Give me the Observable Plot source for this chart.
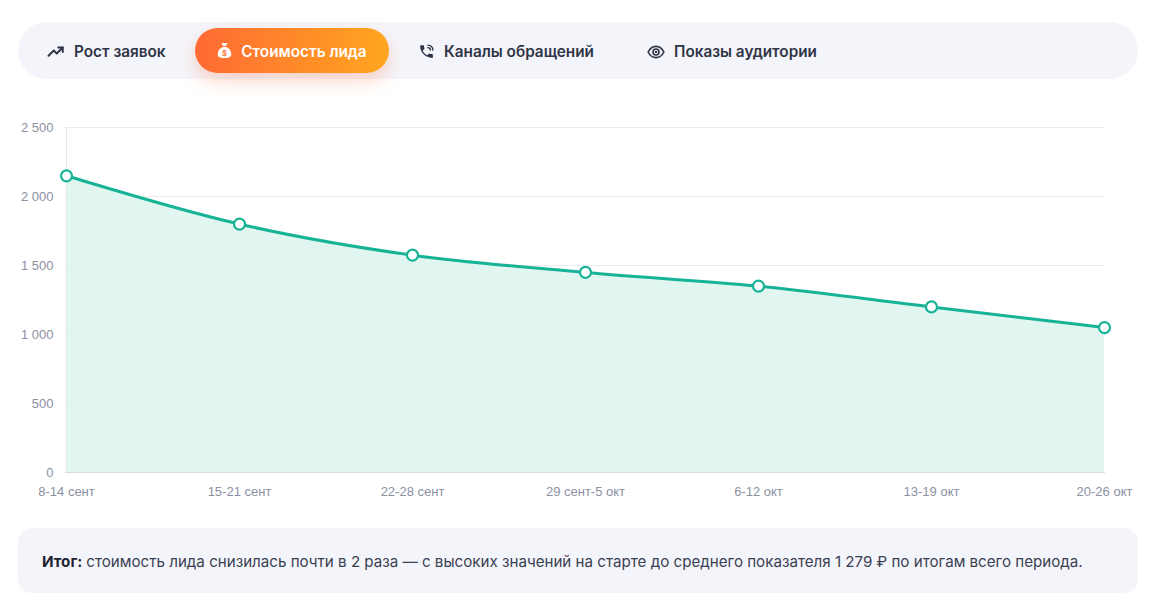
<!DOCTYPE html>
<html><head><meta charset="utf-8">
<script src="https://cdn.jsdelivr.net/npm/d3@7"></script>
<script src="https://cdn.jsdelivr.net/npm/@observablehq/plot@0.6"></script>
<style>
html,body{margin:0;padding:0;background:#fff;width:1155px;height:608px;overflow:hidden;font-family:Inter,"Noto Sans",sans-serif;}
#tabs{position:absolute;left:18px;top:22px;width:1120px;height:57px;background:#f4f5fa;border-radius:29px;}
.tab{position:absolute;top:7px;height:45px;display:flex;align-items:center;font-weight:600;font-size:15.3px;color:#2f3446;white-space:nowrap;}
.tab svg{margin-right:9px;}
.tab.active{top:6px;background:linear-gradient(90deg,#ff6a34,#ffa61f);color:#fff;border-radius:23px;box-shadow:0 8px 18px rgba(255,110,60,0.28);justify-content:center;}
.tab.active span{position:relative;top:1px;}
#chart{position:absolute;left:0;top:100px;}
#summary{position:absolute;left:18px;top:528px;width:1120px;height:65px;background:#f4f5fa;border-radius:14px;display:flex;align-items:center;box-sizing:border-box;padding-left:24px;padding-top:2px;font-size:15.15px;color:#3b4052;}
#summary b{color:#1f2333;font-weight:700;margin-right:4px;}
</style></head>
<body>
<div id="tabs">
  <div class="tab" style="left:29px">
    <svg width="18" height="18" viewBox="0 0 24 24"><path d="M2 17l7-7 4 4 8-8" fill="none" stroke="#2f3446" stroke-width="2.6" stroke-linecap="round" stroke-linejoin="round"/><path d="M15 6h6v6" fill="none" stroke="#2f3446" stroke-width="2.6" stroke-linecap="round" stroke-linejoin="round"/></svg>
    <span id="t0"></span></div>
  <div class="tab active" style="left:177px;width:194px">
    <svg width="15" height="17" viewBox="0 0 20 22"><path d="M6 1h8l-2 4H8z" fill="#fff"/><path d="M10 6c-5 0-9 5-9 10 0 4 3 5 9 5s9-1 9-5c0-5-4-10-9-10z" fill="#fff"/><text x="10" y="18" text-anchor="middle" font-size="10" font-weight="700" fill="#ff7a2e" font-family="Inter">$</text></svg>
    <span id="t1"></span></div>
  <div class="tab" style="left:400px">
    <svg width="17" height="17" viewBox="0 0 24 24"><path d="M6.6 10.8c1.4 2.8 3.8 5.1 6.6 6.6l2.2-2.2c.3-.3.7-.4 1-.2 1.1.4 2.300.6 3.6.6.6 0 1 .4 1 1V20c0 .6-.4 1-1 1C10.6 21 3 13.4 3 4c0-.6.4-1 1-1h3.5c.6 0 1 .4 1 1 0 1.3.2 2.5.6 3.6.1.3 0 .7-.2 1z" fill="#2f3446"/><path d="M14 3a7 7 0 0 1 7 7M14 6.5a3.5 3.5 0 0 1 3.5 3.5" fill="none" stroke="#2f3446" stroke-width="2" stroke-linecap="round"/></svg>
    <span id="t2"></span></div>
  <div class="tab" style="left:629px">
    <svg width="18" height="18" viewBox="0 0 24 24"><path d="M1.5 12C4 7 8 4.5 12 4.5S20 7 22.5 12C20 17 16 19.5 12 19.5S4 17 1.5 12z" fill="none" stroke="#2f3446" stroke-width="2.2"/><circle cx="12" cy="12" r="4" fill="none" stroke="#2f3446" stroke-width="2.2"/><circle cx="12" cy="12" r="1.6" fill="#2f3446"/></svg>
    <span id="t3"></span></div>
</div>
<div id="chart"></div>
<div id="summary"><span><b id="sumLabel"></b><span id="sumText"></span></span></div>
<script>
const tabLabels = ["Рост заявок", "Стоимость лида", "Каналы обращений", "Показы аудитории"];
const weeks = ["8-14 сент", "15-21 сент", "22-28 сент", "29 сент-5 окт", "6-12 окт", "13-19 окт", "20-26 окт"];
const leadCost = [2150, 1800, 1575, 1450, 1350, 1200, 1050];
const yTicks = [0, 500, 1000, 1500, 2000, 2500];
const summaryLabel = "Итог:";
const summaryText = "стоимость лида снизилась почти в 2 раза — с высоких значений на старте до среднего показателя 1 279 ₽ по итогам всего периода.";

tabLabels.forEach((t, i) => document.getElementById("t" + i).textContent = t);
document.getElementById("sumLabel").textContent = summaryLabel;
document.getElementById("sumText").textContent = summaryText;

const data = weeks.map((w, i) => ({week: w, value: leadCost[i]}));
const fmt = d => d3.format(",")(d).replace(/,/g, "\u00a0");
const teal = "#17b396";

const chart = Plot.plot({
  width: 1155,
  height: 410,
  marginTop: 27,
  marginBottom: 38,
  marginLeft: 65,
  marginRight: 50,
  style: {fontFamily: "'Liberation Sans', Arial, sans-serif", fontSize: "13px", color: "#8b90a3", background: "transparent"},
  x: {type: "point", domain: weeks, padding: 0, label: null, tickSize: 0, tickPadding: 14},
  y: {domain: [0, 2500], ticks: yTicks, tickFormat: fmt, label: null, tickSize: 0, tickPadding: 12},
  marks: [
    Plot.gridY(yTicks, {stroke: "#e9ebef", strokeOpacity: 1, strokeWidth: 1}),
    Plot.areaY(data, {x: "week", y: "value", curve: "monotone-x", fill: "#e1f6f0"}),
    Plot.ruleX([weeks[0]], {stroke: "#e3e6ea", strokeWidth: 1}),
    Plot.ruleY([0], {stroke: "#d8dce2", strokeWidth: 1}),
    Plot.axisY({ticks: yTicks, tickFormat: fmt, tickSize: 0, tickPadding: 12, fill: "#8b90a3"}),
    Plot.axisX({tickSize: 0, tickPadding: 14, fill: "#8b90a3"}),
    Plot.lineY(data, {x: "week", y: "value", curve: "monotone-x", stroke: teal, strokeWidth: 3}),
    Plot.dot(data, {x: "week", y: "value", r: 5.5, fill: "#fff", stroke: teal, strokeWidth: 2.2})
  ]
});
document.getElementById("chart").appendChild(chart);
</script>
</body></html>
